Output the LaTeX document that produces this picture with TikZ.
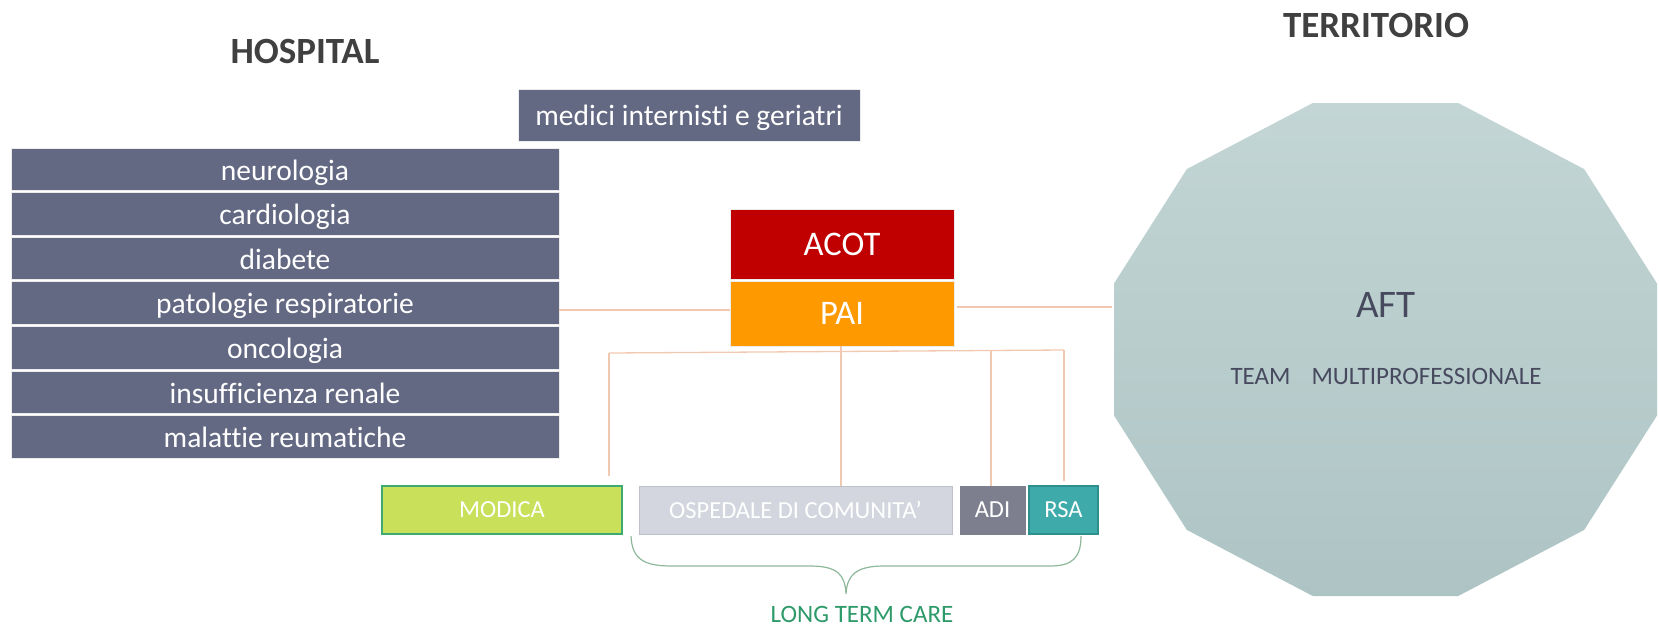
\documentclass[tikz,border=0pt]{standalone}
\usepackage{fontspec}
\setmainfont{Carlito}[Ligatures={NoCommon}]
\definecolor{stackc}{HTML}{636983}
\definecolor{acotc}{HTML}{C00000}
\definecolor{paic}{HTML}{FF9900}
\definecolor{modc}{HTML}{C8E05A}
\definecolor{modb}{HTML}{3DAA72}
\definecolor{ospc}{HTML}{D3D6DE}
\definecolor{adic}{HTML}{7D7F8F}
\definecolor{rsac}{HTML}{3FAAAA}
\definecolor{rsab}{HTML}{2E8F8F}
\definecolor{linkc}{HTML}{F2C9B0}
\definecolor{bracec}{HTML}{8DB89A}
\definecolor{ltcc}{HTML}{2E9A6A}
\definecolor{titlec}{HTML}{404040}
\definecolor{aftt}{HTML}{474A5E}
\definecolor{polytop}{HTML}{C3D5D5}
\definecolor{polybot}{HTML}{AEC4C4}
\tikzset{
  box/.style={inner sep=0pt, text=white, draw=white!85!gray, line width=0.8pt},
  lowtext/.style={text height=21.5pt, text depth=0pt},
  stackbox/.style={box, lowtext, fill=stackc, minimum width=548pt, minimum height=42.6pt, font=\fontsize{29.5}{32}\selectfont},
  botbox/.style={box, minimum height=48pt, font=\fontsize{24.5}{27}\selectfont},
  link/.style={draw=linkc, line width=1.6pt},
  title/.style={font=\bfseries\fontsize{37}{40}\selectfont, text=titlec, inner sep=0pt}
}
\begin{document}
\begin{tikzpicture}[x=1pt,y=-1pt]
\useasboundingbox (0,0) rectangle (1659,630);
% titles
\node[title] (hosp) at (305,51) {HOSPITAL};
\node[title] (terr) at (1376,25) {TERRITORIO};
% medici
\node[box, lowtext, fill=stackc, minimum width=342pt, minimum height=52pt, font=\fontsize{29.5}{32}\selectfont] (medici) at (689,115) {medici internisti e geriatri};
% stack
\node[stackbox] (neuro) at (285,169.3) {neurologia};
\node[stackbox] (cardio) at (285,213.9) {cardiologia};
\node[stackbox] (diab) at (285,258.5) {diabete};
\node[stackbox] (pato) at (285,303.1) {patologie respiratorie};
\node[stackbox] (onco) at (285,347.7) {oncologia};
\node[stackbox] (insuf) at (285,392.3) {insufficienza renale};
\node[stackbox] (mala) at (285,436.9) {malattie reumatiche};
% ACOT / PAI
\node[box, fill=acotc, minimum width=224pt, minimum height=70pt, font=\fontsize{34.5}{37}\selectfont] (acot) at (842,244.5) {ACOT};
\node[box, fill=paic, minimum width=224pt, minimum height=65pt, font=\fontsize{34.5}{37}\selectfont] (pai) at (842,313.5) {PAI};
% bottom boxes
\node[botbox, fill=modc, draw=modb, line width=1.6pt, minimum width=240pt] (modica) at (502,510) {MODICA};
\node[botbox, fill=ospc, draw=ospc!90!black, minimum width=313pt] (osp) at (795.5,510) {OSPEDALE DI COMUNITA’};
\node[botbox, fill=adic, draw=adic, minimum width=65pt] (adi) at (992.5,510) {ADI};
\node[botbox, fill=rsac, draw=rsab, line width=1.4pt, minimum width=69pt] (rsa) at (1063.5,510) {RSA};
% polygon
\shade[top color=polytop, bottom color=polybot]
  (1657,283.5) -- (1584.2,169.1) -- (1458.2,103) -- (1312.8,103) -- (1186.8,169.1) -- (1114,283.5)
  -- (1114,415.5) -- (1186.8,529.9) -- (1312.8,596) -- (1458.2,596) -- (1584.2,529.9) -- (1657,415.5) -- cycle;
\coordinate (aftw) at (1112,307);
\node[inner sep=0pt, text=aftt, font=\fontsize{39}{42}\selectfont] (aft) at (1386,305) {AFT};
\node[inner sep=0pt, text=aftt, font=\fontsize{25}{28}\selectfont] (team) at (1386,376) {TEAM\hspace{21pt}MULTIPROFESSIONALE};
% connectors
\draw[link] ([yshift=3.5pt]pai.west) -- ([yshift=3.5pt]pai.west -| pato.east);
\draw[link] ([yshift=6.5pt,xshift=3pt]pai.east) -- (aftw);
\coordinate (bL) at (609,353);
\coordinate (bR) at (1064,350);
\coordinate (b1) at (841,351.5);
\coordinate (b2) at (991,351);
\coordinate (mT) at (609,476);
\coordinate (rT) at (1064,481);
\draw[link, line width=1.3pt] (bL) -- (bR);
\draw[link, line width=1.3pt] (bL) -- (mT);
\draw[link, line width=1.3pt] (pai.south -| b1) -- (b1 |- osp.north);
\draw[link, line width=1.3pt] (b2) -- (b2 |- adi.north);
\draw[link, line width=1.3pt] (bR) -- (rT);
% brace
\coordinate (brL) at (631,536);
\coordinate (brR) at (1081,536);
\coordinate (brT) at (846,594);
\draw[bracec, line width=1.2pt] (brL) .. controls (632,560) and (645,566) .. (672,566)
  -- (810,566) .. controls (838,566) and (845,575) .. (brT)
  .. controls (847,575) and (856,566) .. (884,566)
  -- (1050,566) .. controls (1072,566) and (1081,558) .. (brR);
\node[inner sep=0pt, text=ltcc, font=\fontsize{25}{28}\selectfont] (ltc) at (862,614) {LONG TERM CARE};
\end{tikzpicture}
\end{document}
